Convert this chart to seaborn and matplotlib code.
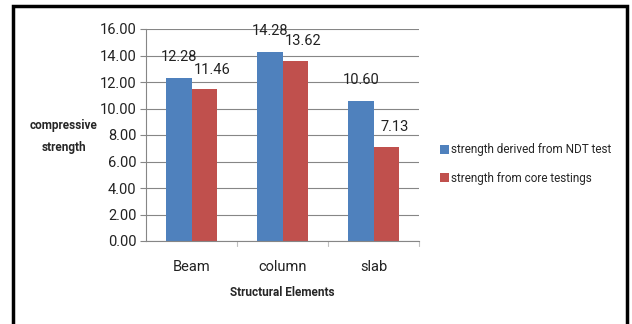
import matplotlib
matplotlib.use("Agg")
import matplotlib.pyplot as plt
import seaborn as sns
import pandas as pd
from matplotlib.patches import Rectangle

elements = ["Beam", "column", "slab"]
ndt_strength = [12.28, 14.28, 10.60]
core_strength = [11.46, 13.62, 7.13]
series_names = ["strength derived from NDT test", "strength from core testings"]
y_ticks = [0, 2, 4, 6, 8, 10, 12, 14, 16]

df = pd.DataFrame({
    "element": elements * 2,
    "strength": ndt_strength + core_strength,
    "series": [series_names[0]] * 3 + [series_names[1]] * 3,
})

sns.set_theme(style="white")
plt.rcParams["font.family"] = ["Roboto", "DejaVu Sans"]

fig = plt.figure(figsize=(6.32, 3.24), dpi=100)
ax = fig.add_axes([146 / 632, 1 - 241 / 324, (419 - 146) / 632, (241 - 29) / 324])

palette = ["#4F81BD", "#C0504D"]
sns.barplot(data=df, x="element", y="strength", hue="series", palette=palette,
            width=0.56, saturation=1, ax=ax, legend=True, edgecolor="none")

ax.set_ylim(0, 16)
ax.set_xlim(-0.5, 2.5)
ax.set_yticks(y_ticks)
ax.set_yticklabels([f"{v:.2f}" for v in y_ticks], fontsize=10.5, color="#222222")
ax.tick_params(axis="y", length=4, width=0.8, color="#868686", pad=3, left=True)
ax.tick_params(axis="x", length=0, pad=14, labelsize=10.5, labelcolor="#222222")
ax.yaxis.grid(True, color="#868686", linewidth=0.8)
ax.set_axisbelow(True)
for s in ["top", "right"]:
    ax.spines[s].set_visible(False)
for s in ["left", "bottom"]:
    ax.spines[s].set_color("#868686")
    ax.spines[s].set_linewidth(0.8)

# category separator ticks below the x axis
for xb in [0.5, 1.5, 2.5]:
    ax.plot([xb, xb], [0, -0.35], color="#BFBFBF", linewidth=0.8, clip_on=False)

# value labels; the second series' labels sit slightly right of their bars
for i, cont in enumerate(ax.containers):
    labels = ax.bar_label(cont, fmt="%.2f", padding=10, fontsize=10.5, color="#222222")
    if i == 1:
        for t in labels:
            t.xyann = (6, 9)

ax.set_xlabel("Structural Elements", fontsize=8.5, fontweight="bold", labelpad=8)
ax.set_ylabel("")
fig.text(64 / 632, 1 - 136 / 324, "compressive\nstrength", ha="center", va="center",
         fontsize=8.5, fontweight="bold", linespacing=1.9)

leg = ax.legend(loc="center left", bbox_to_anchor=(440 / 632, 1 - 164 / 324),
                bbox_transform=fig.transFigure, frameon=False, fontsize=8.5,
                handlelength=0.75, handleheight=0.75, handletextpad=0.2,
                labelspacing=1.3, borderpad=0, borderaxespad=0)

fig.patches.append(Rectangle((13 / 632, -0.05), (627 - 13) / 632, 1 - 6 / 324 + 0.05,
                             transform=fig.transFigure, fill=False,
                             edgecolor="black", linewidth=2.5))

fig.savefig("out.png", dpi=100)
